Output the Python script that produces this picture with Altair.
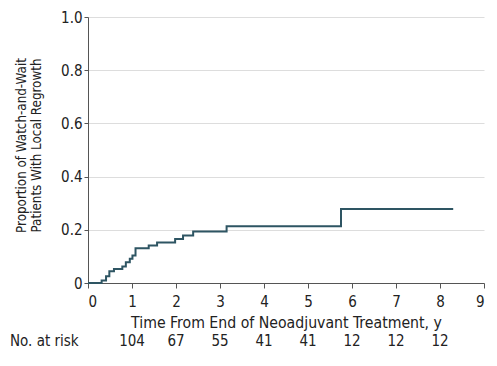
import altair as alt
import pandas as pd

times = [0, 0.31, 0.41, 0.485, 0.59, 0.78, 0.86, 0.95, 1.01, 1.08, 1.38, 1.57, 1.98, 2.16, 2.39, 3.15, 5.75, 8.3]
values = [0, 0.009, 0.025, 0.044, 0.053, 0.062, 0.078, 0.091, 0.103, 0.131, 0.141, 0.152, 0.165, 0.179, 0.194, 0.213, 0.278, 0.278]

risk_times = [1, 2, 3, 4, 5, 6, 7, 8]
risk_counts = [104, 67, 55, 41, 41, 12, 12, 12]

FONT = "Liberation Sans Narrow, DejaVu Sans Condensed, Roboto Condensed, sans-serif"

curve = pd.DataFrame({"t": times, "p": values})
risk = pd.DataFrame({"t": risk_times, "n": [str(v) for v in risk_counts]})

xscale = alt.Scale(domain=[0, 9], nice=False, zero=False)

line = alt.Chart(curve).mark_line(interpolate="step-after", color="#2e5563", strokeWidth=2, clip=False).encode(
    x=alt.X("t:Q", scale=xscale,
            axis=alt.Axis(title="Time From End of Neoadjuvant Treatment, y", values=list(range(10)),
                          grid=False, tickSize=5, labelPadding=6, titlePadding=6,
                          labelFontSize=15, titleFontSize=15.7)),
    y=alt.Y("p:Q", scale=alt.Scale(domain=[0, 1], nice=False),
            axis=alt.Axis(title=["Proportion of Watch-and-Wait", "Patients With Local Regrowth"],
                          values=[0, 0.2, 0.4, 0.6, 0.8, 1.0],
                          labelExpr="datum.value == 0 ? '0' : format(datum.value, '.1f')",
                          grid=True, tickSize=4, titlePadding=17, domain=True,
                          titleY=128,
                          labelFontSize=15, titleFontSize=13.3)),
)

risk_text = alt.Chart(risk).mark_text(font=FONT, fontSize=15, color="#222", baseline="middle").encode(
    x=alt.X("t:Q", scale=xscale),
    y=alt.value(324),
    text="n:N",
)

label = alt.Chart(pd.DataFrame({"s": ["No. at risk"]})).mark_text(
    font=FONT, fontSize=15, color="#222", align="left", baseline="middle"
).encode(x=alt.value(-78), y=alt.value(324), text="s:N")

chart = alt.layer(line, risk_text, label).properties(
    width=396, height=266,
    autosize=alt.AutoSizeParams(type="none"),
    padding={"left": 80, "top": 9, "right": 5, "bottom": 69},
).configure_view(stroke=None).configure_axis(
    labelFont=FONT, titleFont=FONT,
    labelColor="#222", titleColor="#222", titleFontWeight="normal",
    domainColor="#555", tickColor="#555", gridColor="#dddddd",
)

chart.save("out.html", embed_options={"renderer": "svg", "actions": False})
